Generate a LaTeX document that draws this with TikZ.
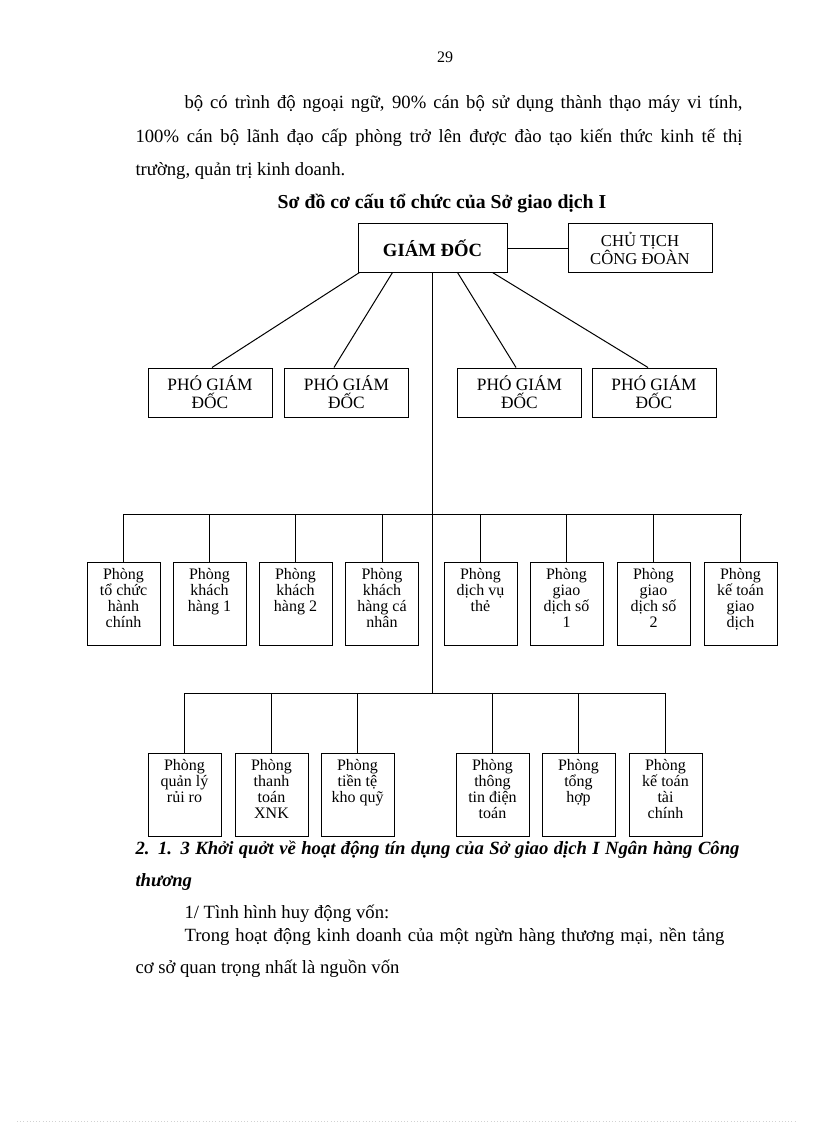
\documentclass[tikz,border=0pt]{standalone}
\usepackage{fontspec}
\setmainfont{Liberation Serif}
\begin{document}
\begin{tikzpicture}[x=0.75pt,y=-0.75pt, line width=0.75pt,
 box/.style={draw, inner sep=0pt, align=center},
 ubox/.style={box, minimum width=54.75pt, minimum height=62.25pt},
 pbox/.style={box, minimum width=93pt, minimum height=36.75pt, font=\fontsize{13}{13.5}\selectfont},
 utext/.style={anchor=north, align=center, font=\fontsize{12}{12}\selectfont, inner sep=0pt},
 body/.style={anchor=base west, inner sep=0pt, font=\fontsize{14}{16}\selectfont},
 headtext/.style={body, font=\fontsize{14}{16}\selectfont\bfseries\itshape}]
\useasboundingbox (0,0) rectangle (816,1123);

% page number and text above
\node[anchor=base, inner sep=0pt, font=\fontsize{12}{14}\selectfont] (pg) at (445,63) {29};
\node[body] (l1) at (184,109) {\makebox[418.5pt][s]{bộ có trình độ ngoại ngữ, 90\% cán bộ sử dụng thành thạo máy vi tính,}};
\node[body] (l2) at (135,143) {\makebox[455.25pt][s]{100\% cán bộ lãnh đạo cấp phòng trở lên được đào tạo kiến thức kinh tế thị}};
\node[body] (l3) at (135,176) {trường, quản trị kinh doanh.};
\node[anchor=base, inner sep=0pt, font=\fontsize{14.8}{16}\selectfont\bfseries] (title) at (442,209) {Sơ đồ cơ cấu tổ chức của Sở giao dịch I};

% top level
\node[box, minimum width=111.75pt, minimum height=36pt, font=\fontsize{14}{16}\selectfont\bfseries] (gd) at (432.5,248) {GIÁM ĐỐC};
\node[box, minimum width=108pt, minimum height=36pt, font=\fontsize{12.5}{13.5}\selectfont] (ct) at (640,248) {CHỦ TỊCH\\CÔNG ĐOÀN};

% deputies
\node[pbox] (p1) at (210,392.5) {PHÓ GIÁM\\ĐỐC};
\node[pbox] (p2) at (346.5,392.5) {PHÓ GIÁM\\ĐỐC};
\node[pbox] (p3) at (519.5,392.5) {PHÓ GIÁM\\ĐỐC};
\node[pbox] (p4) at (654,392.5) {PHÓ GIÁM\\ĐỐC};

% row 1 departments
\foreach \n/\x/\t in {a1/123.5/{Phòng\\tổ chức\\hành\\chính},
                      a2/209.5/{Phòng\\khách\\hàng 1},
                      a3/295.5/{Phòng\\khách\\hàng 2},
                      a4/382/{Phòng\\khách\\hàng cá\\nhân},
                      a5/480.5/{Phòng\\dịch vụ\\thẻ},
                      a6/566.5/{Phòng\\giao\\dịch số\\1},
                      a7/653.5/{Phòng\\giao\\dịch số\\2},
                      a8/740.5/{Phòng\\kế toán\\giao\\dịch}}{
  \node[ubox] (\n) at (\x,603.5) {};
  \node[utext] (\n t) at ([yshift=-4.5pt]\n.north) {\t};
}

% row 2 departments
\foreach \n/\x/\t in {b1/184.5/{Phòng\\quản lý\\rủi ro},
                      b2/271.5/{Phòng\\thanh\\toán\\XNK},
                      b3/357.5/{Phòng\\tiền tệ\\kho quỹ},
                      b4/492.5/{Phòng\\thông\\tin điện\\toán},
                      b5/578.5/{Phòng\\tổng\\hợp},
                      b6/665.5/{Phòng\\kế toán\\tài\\chính}}{
  \node[ubox] (\n) at (\x,794.5) {};
  \node[utext] (\n t) at ([yshift=-4.5pt]\n.north) {\t};
}

% connectors
\draw (gd.east) -- (ct.west);
\draw ([xshift=1.5pt]gd.south west) -- ([xshift=1.5pt]p1.north);
\draw ([xshift=26.25pt]gd.south west) -- ([xshift=-9.4pt]p2.north);
\draw ([xshift=75pt]gd.south west) -- ([xshift=-2.6pt]p3.north);
\draw ([xshift=101.25pt]gd.south west) -- ([xshift=-4.5pt]p4.north);

\coordinate (bus1L) at (123.5,514);
\coordinate (bus1R) at (742,514);
\coordinate (bus2L) at (184.5,693);
\coordinate (bus2R) at (665.5,693);
\coordinate (trunkEnd) at (432.5,693);
\draw (gd.south) -- (trunkEnd);
\draw (bus1L) -- (bus1R);
\draw (bus2L) -- (bus2R);
\foreach \n in {a1,a2,a3,a4,a5,a6,a7,a8}{\draw (\n.north |- bus1L) -- (\n.north);}
\foreach \n in {b1,b2,b3,b4,b5,b6}{\draw (\n.north |- bus2L) -- (\n.north);}

% text below
\node[headtext] (h1) at (135,854) {\makebox[453pt][s]{2. 1. 3 Khởi quởt về hoạt động tín dụng của Sở giao dịch I Ngân hàng Công}};
\node[headtext] (h2) at (135,886) {thương};
\node[body] (t1) at (184,918) {1/ Tình hình huy động vốn:};
\node[body] (t2) at (184,941) {\makebox[405pt][s]{Trong hoạt động kinh doanh của một ngừn hàng thương mại, nền tảng}};
\node[body] (t3) at (135,973) {cơ sở quan trọng nhất là nguồn vốn};

\draw[gray!35, dotted, line width=0.4pt] (17,1121) -- (795,1121);
\end{tikzpicture}
\end{document}
